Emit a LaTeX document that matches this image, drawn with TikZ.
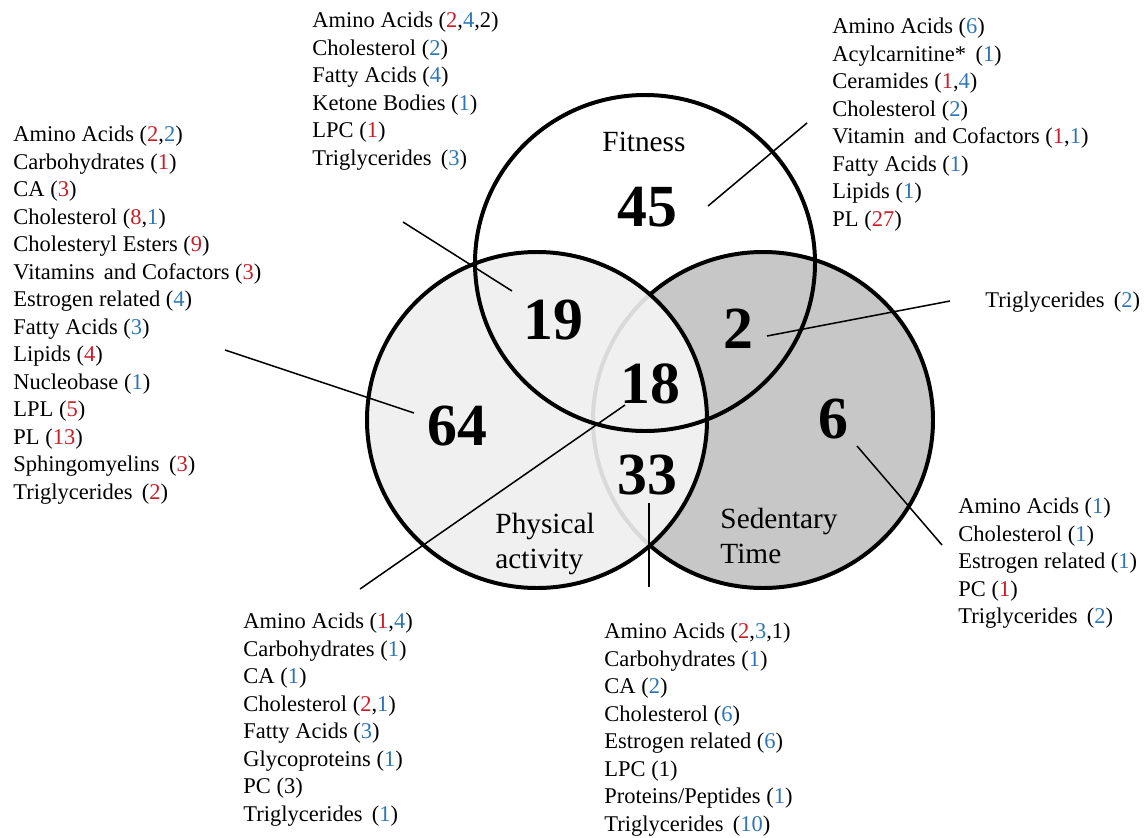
\documentclass[tikz,border=0pt]{standalone}
\usepackage{fontspec}
\setmainfont{Liberation Serif}

\definecolor{numred}{RGB}{200,30,40}
\definecolor{numblue}{RGB}{46,117,182}
\newcommand{\rn}[1]{\textcolor{numred}{#1}}
\newcommand{\bn}[1]{\textcolor{numblue}{#1}}

\tikzset{
    venn/.style={line width=1.7pt},
    count/.style={font=\fontsize{25.5}{28}\selectfont\bfseries, inner sep=0pt},
    setname/.style={font=\fontsize{12.5}{14.6}\selectfont, align=left, anchor=north west, inner sep=0pt},
    metlist/.style={font=\fontsize{9.6}{11.74}\selectfont, align=left, anchor=north west, inner sep=0pt},
    pointer/.style={line width=0.65pt}
}

\begin{document}
\begin{tikzpicture}[x=0.015cm, y=-0.015cm]
    \useasboundingbox (0,0) rectangle (1145,838);

    % CIRCULOS (Fitness, Physical activity, Sedentary Time)
    \coordinate (cFit) at (645,263);
    \coordinate (cPA) at (537,420);
    \coordinate (cSed) at (763,420);
    \fill[black!22] (cSed) ellipse [x radius=170, y radius=168];
    \draw[venn] (cSed) ellipse [x radius=170, y radius=168];
    \fill[black!6] (cPA) ellipse [x radius=170, y radius=168];
    % borde de Sedentary apenas visible dentro de Physical activity
    \begin{scope}
        \clip (cPA) ellipse [x radius=170, y radius=168];
        \draw[venn, black!15] (cSed) ellipse [x radius=170, y radius=168];
    \end{scope}
    \draw[venn] (cPA) ellipse [x radius=170, y radius=168];
    \draw[venn] (cFit) ellipse [x radius=170, y radius=168];

    % Nombres de los conjuntos
    \node[setname] (nameFit) at (602,132) {Fitness};
    \node[setname] (namePA) at (495,513) {Physical\\activity};
    \node[setname] (nameSed) at (720,508) {Sedentary\\Time};

    % Cantidades
    \node[count] (n45) at (647,207) {45};
    \node[count] (n19) at (553,320) {19};
    \node[count] (n2) at (738,329) {2};
    \node[count] (n18) at (650,384) {18};
    \node[count] (n64) at (457,426) {64};
    \node[count] (n6) at (833,419) {6};
    \node[count] (n33) at (647,475) {33};

    % LISTAS DE METABOLITOS
    \node[metlist] (listPA) at (13,125.5) {Amino Acids (\rn{2},\bn{2})\\
        Carbohydrates (\rn{1})\\
        CA (\rn{3})\\
        Cholesterol (\rn{8},\bn{1})\\
        Cholesteryl Esters (\rn{9})\\
        Vitamins\, and Cofactors (\rn{3})\\
        Estrogen related (\bn{4})\\
        Fatty Acids (\bn{3})\\
        Lipids (\rn{4})\\
        Nucleobase (\bn{1})\\
        LPL (\rn{5})\\
        PL (\rn{13})\\
        Sphingomyelins\, (\rn{3})\\
        Triglycerides\, (\rn{2})};
    \node[metlist] (list19) at (312,11.5) {Amino Acids (\rn{2},\bn{4},2)\\
        Cholesterol (\bn{2})\\
        Fatty Acids (\bn{4})\\
        Ketone Bodies (\bn{1})\\
        LPC (\rn{1})\\
        Triglycerides\, (\bn{3})};
    \node[metlist] (list45) at (832,17.5) {Amino Acids (\bn{6})\\
        Acylcarnitine*\, (\bn{1})\\
        Ceramides (\rn{1},\bn{4})\\
        Cholesterol (\bn{2})\\
        Vitamin\, and Cofactors (\rn{1},\bn{1})\\
        Fatty Acids (\bn{1})\\
        Lipids (\bn{1})\\
        PL (\rn{27})};
    \node[metlist] (list2) at (985,291.5) {Triglycerides\, (\bn{2})};
    \node[metlist] (list18) at (243,612.5) {Amino Acids (\rn{1},\bn{4})\\
        Carbohydrates (\bn{1})\\
        CA (\bn{1})\\
        Cholesterol (\rn{2},\bn{1})\\
        Fatty Acids (\bn{3})\\
        Glycoproteins (\bn{1})\\
        PC (3)\\
        Triglycerides\, (\bn{1})};
    \node[metlist] (list33) at (604,622.5) {Amino Acids (\rn{2},\bn{3},1)\\
        Carbohydrates (\bn{1})\\
        CA (\bn{2})\\
        Cholesterol (\bn{6})\\
        Estrogen related (\bn{6})\\
        LPC (1)\\
        Proteins/Peptides (\bn{1})\\
        Triglycerides\, (\bn{10})};
    \node[metlist] (list6) at (958,497.5) {Amino Acids (\bn{1})\\
        Cholesterol (\bn{1})\\
        Estrogen related (\bn{1})\\
        PC (\rn{1})\\
        Triglycerides\, (\bn{2})};

    % Lineas de referencia
    \coordinate (s45) at (708,206);  \coordinate (e45) at (807,123);
    \coordinate (s19) at (512,291);  \coordinate (e19) at (403,222);
    \coordinate (s2) at (767,336);   \coordinate (e2) at (950,301);
    \coordinate (s64) at (414,413);  \coordinate (e64) at (225,350);
    \coordinate (s18) at (625,405);  \coordinate (e18) at (360,589);
    \coordinate (s33) at (649,503);  \coordinate (e33) at (649,587);
    \coordinate (s6) at (857,446);   \coordinate (e6) at (942,545);
    \foreach \k in {45,19,2,64,18,33,6}
        \draw[pointer] (s\k) -- (e\k);
\end{tikzpicture}
\end{document}
